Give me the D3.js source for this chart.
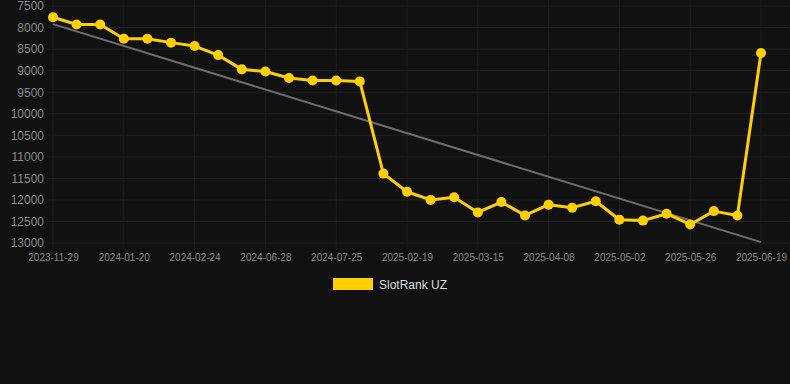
<!DOCTYPE html>
<html>
<head>
<meta charset="utf-8">
<script src="https://cdn.jsdelivr.net/npm/d3@7"></script>
<style>
  html, body { margin: 0; padding: 0; background: #111111; }
  svg { display: block; font-family: 'Liberation Sans', Arial, sans-serif; }
</style>
</head>
<body>
<svg id="chart" width="790" height="384"></svg>
<script>
// dates on the category axis (31 points, a label every third one)
const dates = [
  '2023-11-29', '', '', '2024-01-20', '', '', '2024-02-24', '', '', '2024-06-28', '', '',
  '2024-07-25', '', '', '2025-02-19', '', '', '2025-03-15', '', '', '2025-04-08', '', '',
  '2025-05-02', '', '', '2025-05-26', '', '', '2025-06-19'
]
const rank = [
  7760, 7930, 7930, 8260, 8260, 8350, 8430, 8640, 8970, 9020, 9170, 9230, 9230, 9250,
  11390, 11810, 12000, 11940, 12290, 12050, 12360, 12110, 12180, 12030, 12460, 12480,
  12320, 12570, 12260, 12360, 8590
]
const trend = [7920, 12980]
const yTicks = [7500, 8000, 8500, 9000, 9500, 10000, 10500, 11000, 11500, 12000, 12500, 13000]
const seriesName = 'SlotRank UZ'

const svg = d3.select('#chart')
const area = { left: 53, right: 761, top: 6, bottom: 243 }

const x = d3.scalePoint()
  .domain(d3.range(dates.length))
  .range([area.left, area.right])

const y = d3.scaleLinear()
  .domain([7500, 13000])
  .range([area.top, area.bottom])

// horizontal grid
svg.append('g')
  .selectAll('line')
  .data(yTicks)
  .enter()
  .append('line')
  .attr('x1', area.left - 6)
  .attr('x2', 790)
  .attr('y1', d => y(d))
  .attr('y2', d => y(d))
  .attr('stroke', '#232323')
  .attr('stroke-width', 1)

// vertical grid at labelled dates
const labelled = d3.range(dates.length).filter(i => dates[i])
svg.append('g')
  .selectAll('line')
  .data(labelled)
  .enter()
  .append('line')
  .attr('x1', d => x(d))
  .attr('x2', d => x(d))
  .attr('y1', 0)
  .attr('y2', area.bottom + 7)
  .attr('stroke', '#1f1f1f')
  .attr('stroke-width', 1)

// y axis labels
const yAxis = svg.append('g')
  .attr('transform', `translate(${area.left - 9},0)`)
  .call(d3.axisLeft(y).tickValues(yTicks).tickSize(0).tickPadding(0).tickFormat(d3.format('d')))
yAxis.select('.domain').remove()
yAxis.selectAll('text')
  .attr('fill', '#8a8a8a')
  .style('font-size', '12px')
  .style('font-family', "'Liberation Sans', Arial, sans-serif")

// x axis labels
const xAxis = svg.append('g')
  .attr('transform', `translate(0,${area.bottom + 5})`)
  .call(d3.axisBottom(x).tickValues(labelled).tickSize(0).tickPadding(6).tickFormat(i => dates[i]))
xAxis.select('.domain').remove()
xAxis.selectAll('text')
  .attr('fill', '#8a8a8a')
  .style('font-size', '10px')
  .style('font-family', "'Liberation Sans', Arial, sans-serif")

// trend line
svg.append('line')
  .attr('x1', x(0))
  .attr('x2', x(dates.length - 1))
  .attr('y1', y(trend[0]))
  .attr('y2', y(trend[1]))
  .attr('stroke', '#6e6e6e')
  .attr('stroke-width', 2)

// series line
const line = d3.line()
  .x((d, i) => x(i))
  .y(d => y(d))

svg.append('path')
  .datum(rank)
  .attr('d', line)
  .attr('fill', 'none')
  .attr('stroke', '#ffd000')
  .attr('stroke-width', 3)
  .attr('stroke-linejoin', 'round')

svg.append('g')
  .selectAll('circle')
  .data(rank)
  .enter()
  .append('circle')
  .attr('cx', (d, i) => x(i))
  .attr('cy', d => y(d))
  .attr('r', 5)
  .attr('fill', '#ffd000')

// legend
const legend = svg.append('g').attr('transform', 'translate(333,278)')
legend.append('rect')
  .attr('width', 40)
  .attr('height', 12)
  .attr('fill', '#ffd000')
legend.append('text')
  .attr('x', 46)
  .attr('y', 10.5)
  .attr('fill', '#dddddd')
  .style('font-size', '12px')
  .text(seriesName)
</script>
</body>
</html>
